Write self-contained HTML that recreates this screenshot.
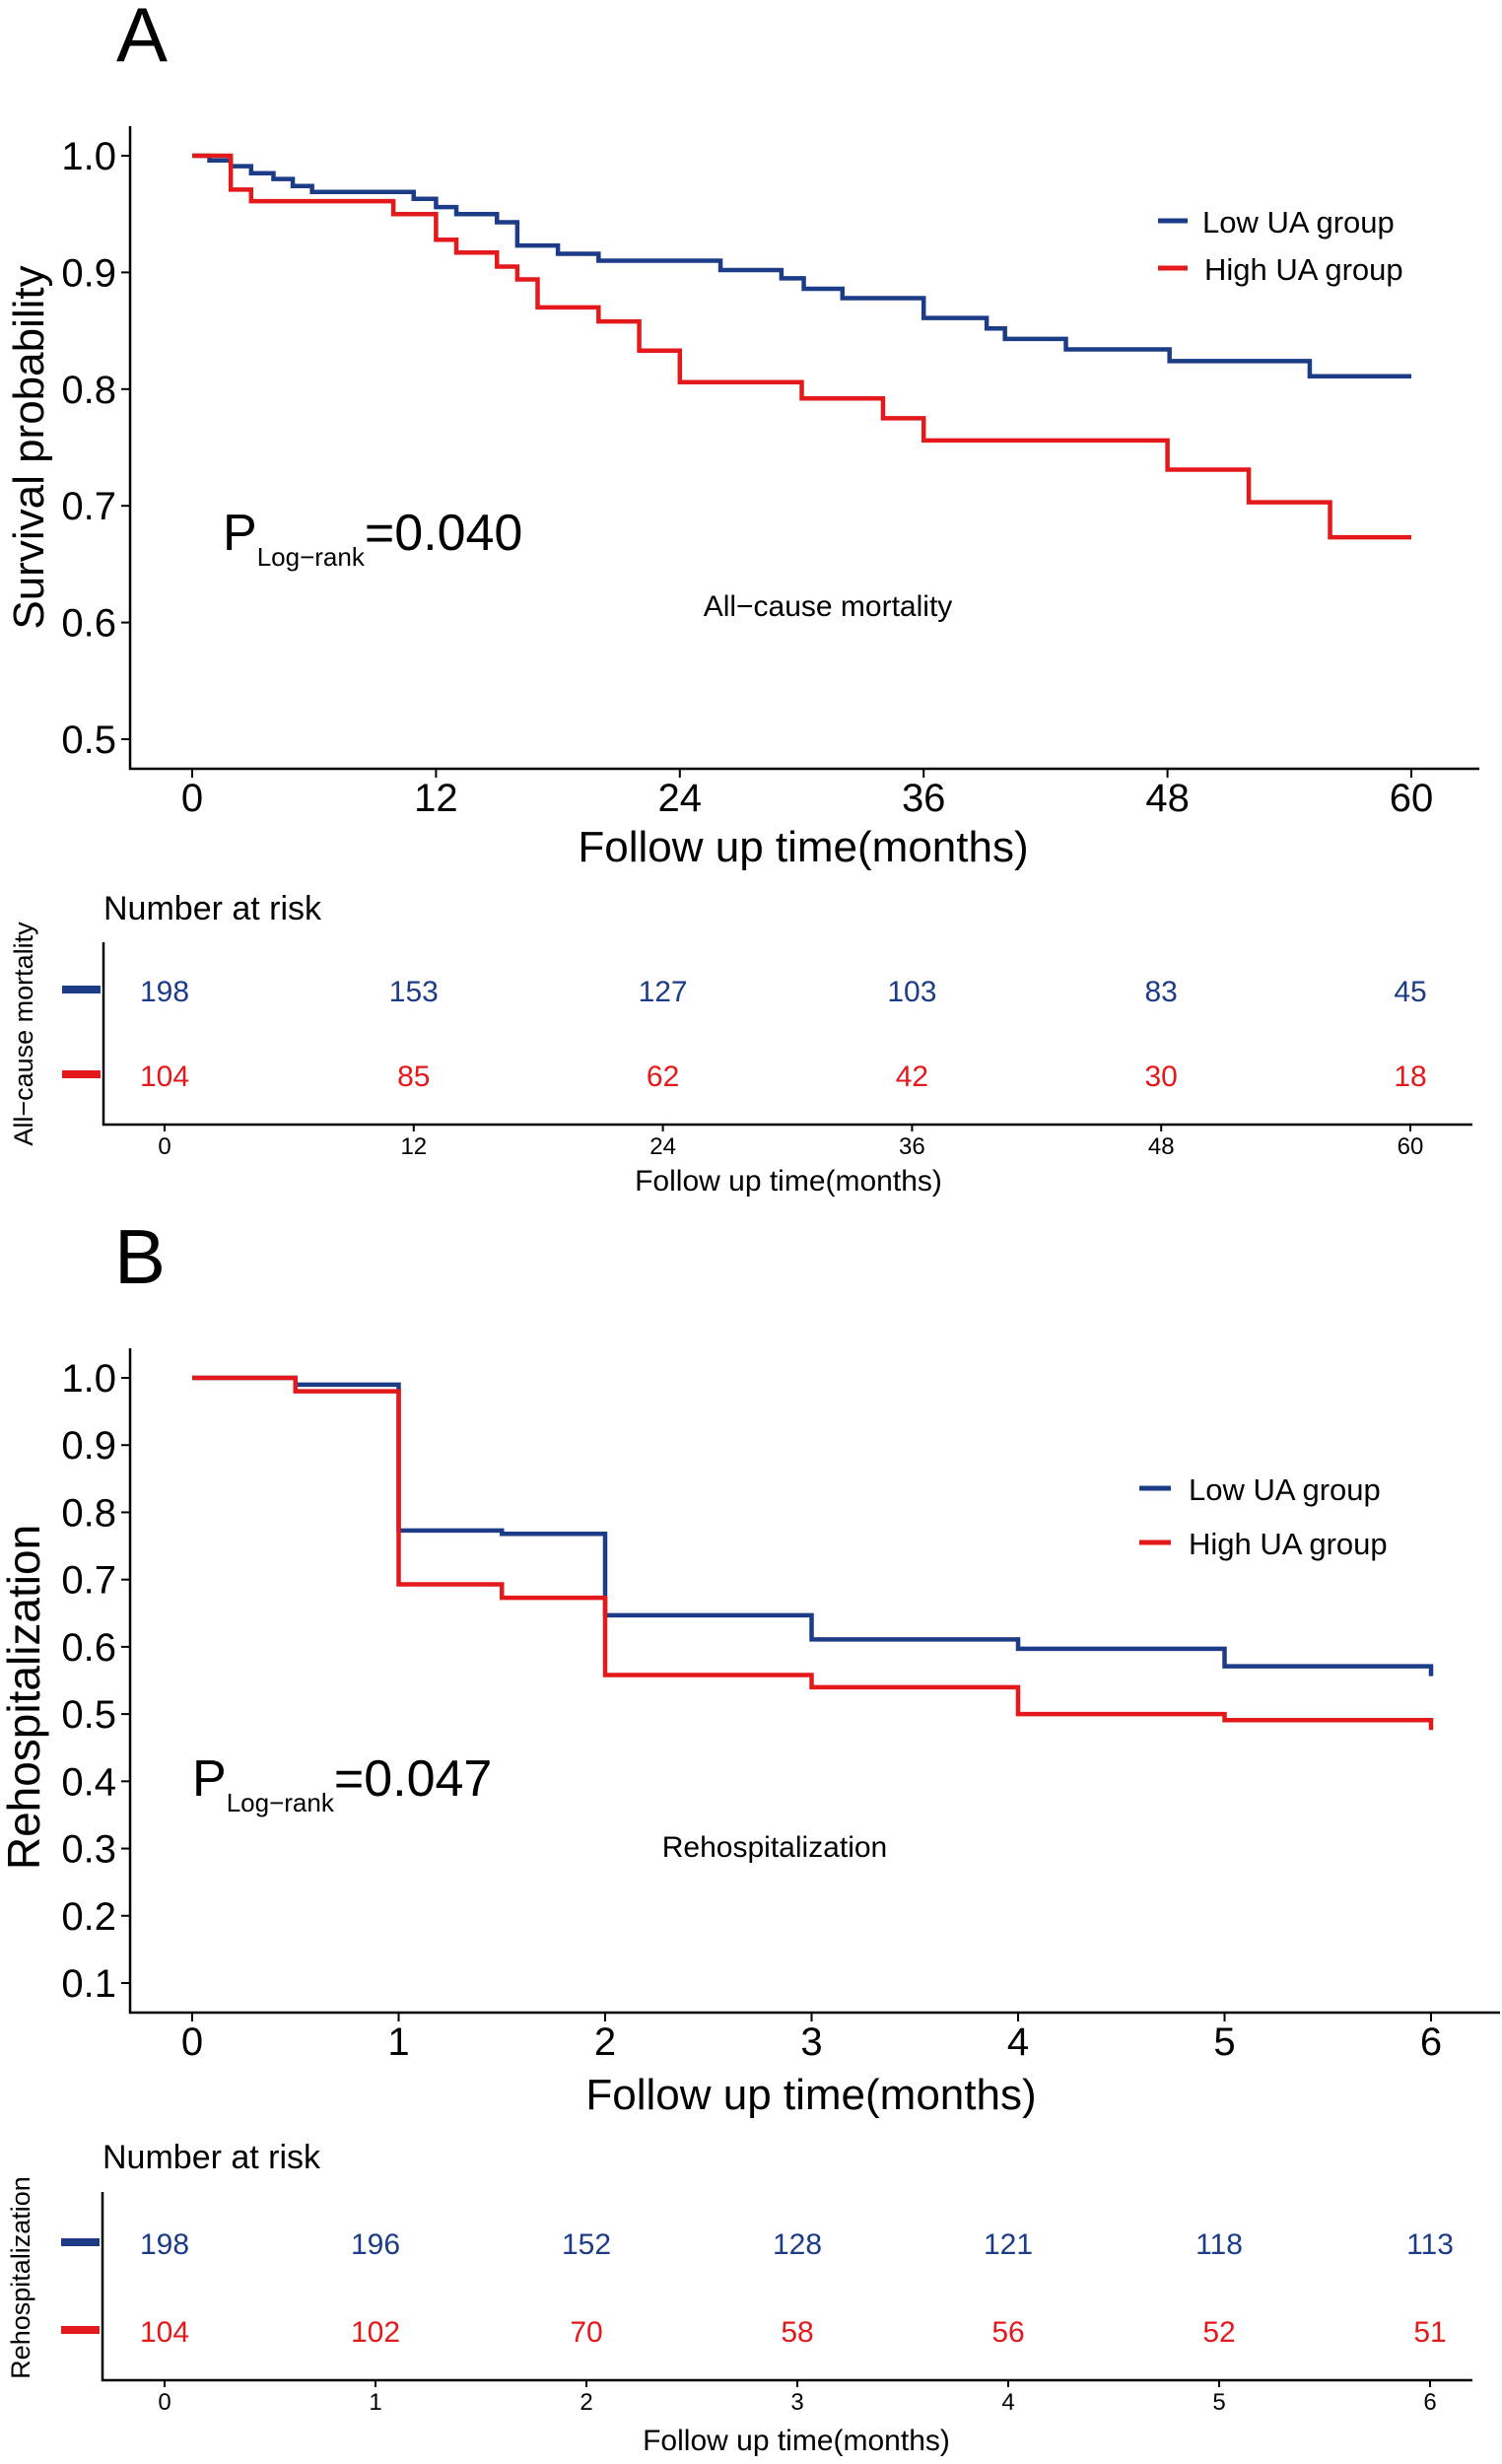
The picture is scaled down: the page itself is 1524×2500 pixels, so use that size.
<!DOCTYPE html>
<html><head><meta charset="utf-8"><style>
html,body{margin:0;padding:0;background:#fff}
svg{display:block;font-family:"Liberation Sans",Arial,sans-serif}
</style></head><body>
<svg id="fig" width="1524" height="2500" viewBox="0 0 1524 2500" xmlns="http://www.w3.org/2000/svg"></svg>
<script>
// Panel A data (months, survival)
const aTimesLow = [0,0.85,1.9,2.9,4,4.95,5.9,10.9,12,13,15,16,18,20,26,29,30.1,32,36,39.1,40,43,48.1,55];
const aSurvLow  = [1,0.996,0.991,0.985,0.98,0.974,0.969,0.963,0.956,0.95,0.943,0.923,0.916,0.91,0.902,0.895,0.886,0.878,0.861,0.852,0.843,0.834,0.824,0.811];
const aTimesHigh = [0,1.9,2.9,9.9,12,13,15,16,17,20,22,24,30,34,36,48,52,56];
const aSurvHigh  = [1,0.971,0.961,0.95,0.928,0.917,0.905,0.894,0.87,0.858,0.833,0.806,0.792,0.775,0.756,0.731,0.703,0.673];
const aXTicks = [0,12,24,36,48,60];
const aYTicks = [0.5,0.6,0.7,0.8,0.9,1.0];
const aRiskLow = [198,153,127,103,83,45];
const aRiskHigh = [104,85,62,42,30,18];
// Panel B data
const bTimesLow = [0,0.5,1,1.5,2,3,4,5];
const bSurvLow  = [1,0.99,0.773,0.768,0.647,0.611,0.597,0.571];
const bTimesHigh = [0,0.5,1,1.5,2,3,4,5];
const bSurvHigh  = [1,0.98,0.693,0.673,0.558,0.54,0.50,0.491];
const bXTicks = [0,1,2,3,4,5,6];
const bYTicks = [0.1,0.2,0.3,0.4,0.5,0.6,0.7,0.8,0.9,1.0];
const bRiskLow = [198,196,152,128,121,118,113];
const bRiskHigh = [104,102,70,58,56,52,51];

const NS="http://www.w3.org/2000/svg";
const svg=document.getElementById('fig');
const BLUE="#1d3c87", RED="#e3191b";
function el(tag,attrs,parent){const e=document.createElementNS(NS,tag);for(const k in attrs)e.setAttribute(k,attrs[k]);(parent||svg).appendChild(e);return e;}
function txt(s,attrs,parent){const e=el('text',attrs,parent);e.textContent=s;return e;}

function panel(cfg){
  const g=el('g',{});
  
  
  const X=v=>cfg.x0+(v-cfg.xmin)/(cfg.xmax-cfg.xmin)*(cfg.x1-cfg.x0);
  const Y=v=>cfg.yb+(v-cfg.ymin)/(cfg.ymax-cfg.ymin)*(cfg.yt-cfg.yb);
  const ax=el('path',{d:`M${cfg.axL} ${cfg.axTop} V${cfg.axBot} H${cfg.axR}`,fill:'none',stroke:'#000','stroke-width':2.5},g);
  
  
  cfg.yTicks.forEach(v=>{
    el('line',{x1:cfg.axL-9,x2:cfg.axL,y1:Y(v),y2:Y(v),stroke:'#000','stroke-width':2},g);
    const t=txt(v.toFixed(1),{x:cfg.axL-14,y:Y(v)+14,'text-anchor':'end','font-size':40},g);
    
    
  });
  cfg.xTicks.forEach(v=>{
    el('line',{x1:X(v),x2:X(v),y1:cfg.axBot,y2:cfg.axBot+9,stroke:'#000','stroke-width':2},g);
    const t=txt(String(v),{x:X(v),y:cfg.axBot+43,'text-anchor':'middle','font-size':40},g);
    
    
  });
  function curve(ts,ss,color,name){
    let d=`M${X(ts[0])} ${Y(ss[0])}`;
    for(let i=1;i<ts.length;i++){d+=` H${X(ts[i])} V${Y(ss[i])}`;}
    d+=` H${X(cfg.xmax)}`;
    if(cfg.endTick) d+=` v${cfg.endTick}`;
    const p=el('path',{d:d,fill:'none',stroke:color,'stroke-width':4.5},g);
    
    
  }
  curve(cfg.tl,cfg.sl,BLUE,'low-ua-curve');
  curve(cfg.th,cfg.sh,RED,'high-ua-curve');
  return {X,Y};
}

// Panel A
txt('A',{x:118,y:62,'font-size':78});
const pa=panel({name:'survival',xmin:0,xmax:60,ymin:0.5,ymax:1.0,x0:195,x1:1432,yb:750,yt:158,axL:132,axTop:128,axBot:780,axR:1501,xTicks:aXTicks,yTicks:aYTicks,tl:aTimesLow,sl:aSurvLow,th:aTimesHigh,sh:aSurvHigh});
let t=txt('Survival probability',{x:0,y:0,'font-size':44,'text-anchor':'middle',transform:'translate(44,454) rotate(-90)'});

t=txt('Follow up time(months)',{x:815,y:874,'font-size':44,'text-anchor':'middle'});

t=txt('',{x:226,y:558,'font-size':52});
t.innerHTML='P<tspan font-size="26" dy="16">Log−rank</tspan><tspan dy="-16">=0.040</tspan>';

t=txt('All−cause mortality',{x:840,y:625,'font-size':30,'text-anchor':'middle'});

// legend A
let l=el('line',{x1:1175,x2:1205,y1:224,y2:224,stroke:BLUE,'stroke-width':5});

t=txt('Low UA group',{x:1220,y:236,'font-size':31});

l=el('line',{x1:1175,x2:1205,y1:272,y2:272,stroke:RED,'stroke-width':5});

t=txt('High UA group',{x:1222,y:284,'font-size':31});


function riskTable(cfg){
  const g=el('g',{});
  
  
  const X=v=>cfg.x0+(v-cfg.xmin)/(cfg.xmax-cfg.xmin)*(cfg.x1-cfg.x0);
  txt('Number at risk',{x:cfg.axL,y:cfg.titleY,'font-size':34},g);
  el('path',{d:`M${cfg.axL} ${cfg.axTop} V${cfg.axBot} H${cfg.axR}`,fill:'none',stroke:'#000','stroke-width':2.5},g);
  el('line',{x1:cfg.axL-42,x2:cfg.axL-3,y1:cfg.r1-10,y2:cfg.r1-10,stroke:BLUE,'stroke-width':8},g);
  el('line',{x1:cfg.axL-42,x2:cfg.axL-3,y1:cfg.r2-10,y2:cfg.r2-10,stroke:RED,'stroke-width':8},g);
  cfg.ticks.forEach((v,i)=>{
    el('line',{x1:X(v),x2:X(v),y1:cfg.axBot,y2:cfg.axBot+7,stroke:'#000','stroke-width':2},g);
    txt(String(v),{x:X(v),y:cfg.axBot+30,'text-anchor':'middle','font-size':24},g);
    const a=txt(String(cfg.low[i]),{x:X(v),y:cfg.r1+2,'text-anchor':'middle','font-size':30,fill:BLUE},g);
    
    const b=txt(String(cfg.high[i]),{x:X(v),y:cfg.r2+2,'text-anchor':'middle','font-size':30,fill:RED},g);
    
  });
  txt('Follow up time(months)',{x:cfg.xlabX,y:cfg.xlabY,'text-anchor':'middle','font-size':30},g);
  txt(cfg.side,{x:0,y:0,'font-size':27,'text-anchor':'middle',transform:`translate(${cfg.sideX},${cfg.sideY}) rotate(-90)`},g);
}
riskTable({name:'mortality',xmin:0,xmax:60,x0:167,x1:1431,axL:105,axTop:956,axBot:1141,axR:1494,titleY:933,r1:1014,r2:1100,ticks:aXTicks,low:aRiskLow,high:aRiskHigh,xlabX:800,xlabY:1208,side:'All−cause mortality',sideX:33,sideY:1049});

// Panel B
txt('B',{x:116,y:1302,'font-size':78});
panel({name:'rehospitalization',xmin:0,xmax:6,ymin:0.1,ymax:1.0,x0:195,x1:1452,yb:2012,yt:1398,axL:132,axTop:1368,axBot:2042,axR:1522,xTicks:bXTicks,yTicks:bYTicks,tl:bTimesLow,sl:bSurvLow,th:bTimesHigh,sh:bSurvHigh,endTick:10});
t=txt('Rehospitalization',{x:0,y:0,'font-size':46,'text-anchor':'middle',transform:'translate(40,1722) rotate(-90)'});

t=txt('Follow up time(months)',{x:823,y:2140,'font-size':44,'text-anchor':'middle'});

t=txt('',{x:195,y:1822,'font-size':52});
t.innerHTML='P<tspan font-size="26" dy="16">Log−rank</tspan><tspan dy="-16">=0.047</tspan>';

t=txt('Rehospitalization',{x:786,y:1884,'font-size':30,'text-anchor':'middle'});

l=el('line',{x1:1156,x2:1188,y1:1510,y2:1510,stroke:BLUE,'stroke-width':5});

t=txt('Low UA group',{x:1206,y:1522,'font-size':31});

l=el('line',{x1:1156,x2:1188,y1:1565,y2:1565,stroke:RED,'stroke-width':5});

t=txt('High UA group',{x:1206,y:1577,'font-size':31});


riskTable({name:'rehospitalization',xmin:0,xmax:6,x0:167,x1:1451,axL:104,axTop:2224,axBot:2415,axR:1494,titleY:2200,r1:2285,r2:2374,ticks:bXTicks,low:bRiskLow,high:bRiskHigh,xlabX:808,xlabY:2486,side:'Rehospitalization',sideX:30,sideY:2311});
</script>
</body></html>
